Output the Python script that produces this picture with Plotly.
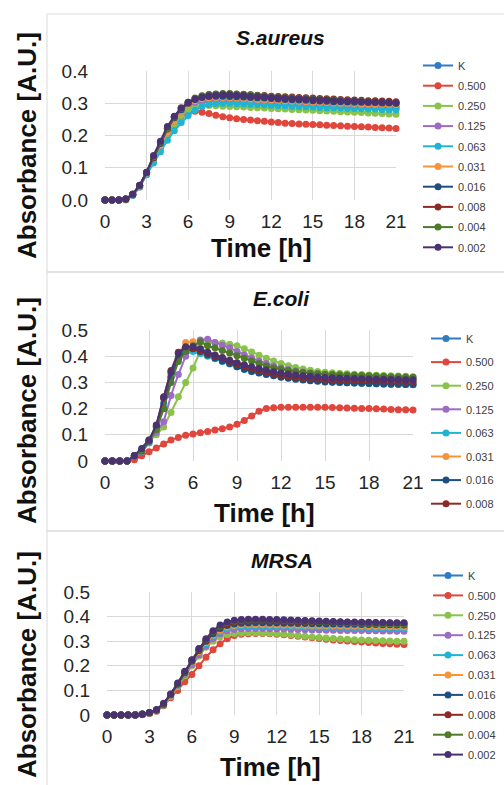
import plotly.graph_objects as go

# ---------------- data ----------------
time_h = [0, 0.5, 1, 1.5, 2, 2.5, 3, 3.5, 4, 4.5, 5, 5.5, 6, 6.5, 7, 7.5, 8, 8.5, 9, 9.5,
          10, 10.5, 11, 11.5, 12, 12.5, 13, 13.5, 14, 14.5, 15, 15.5, 16, 16.5, 17, 17.5,
          18, 18.5, 19, 19.5, 20, 20.5, 21]

series_names = ["K", "0.500", "0.250", "0.125", "0.063", "0.031", "0.016", "0.008", "0.004", "0.002"]

# S.aureus
sa_K = [0, 0, 0, 0.002, 0.017, 0.043, 0.082, 0.125, 0.165, 0.205,
        0.24, 0.27, 0.29, 0.30, 0.305, 0.307, 0.308, 0.308, 0.307, 0.306,
        0.305, 0.304, 0.303, 0.302, 0.301, 0.300, 0.299, 0.298, 0.297, 0.296,
        0.295, 0.294, 0.293, 0.292, 0.291, 0.290, 0.289, 0.288, 0.288, 0.287,
        0.286, 0.286, 0.285]
sa_0500 = [0, 0, 0, 0.002, 0.015, 0.04, 0.08, 0.12, 0.16, 0.2,
           0.235, 0.26, 0.272, 0.275, 0.272, 0.268, 0.263, 0.258, 0.255, 0.252,
           0.25, 0.248, 0.246, 0.244, 0.242, 0.24, 0.238, 0.237, 0.236, 0.235,
           0.234, 0.233, 0.232, 0.231, 0.23, 0.229, 0.228, 0.227, 0.226, 0.225,
           0.224, 0.223, 0.222]
sa_0250 = [0, 0, -0.002, 0, 0.015, 0.042, 0.08, 0.12, 0.16, 0.2,
           0.235, 0.262, 0.28, 0.288, 0.292, 0.293, 0.292, 0.291, 0.29, 0.289,
           0.288, 0.287, 0.286, 0.285, 0.284, 0.283, 0.282, 0.281, 0.28, 0.279,
           0.278, 0.277, 0.276, 0.275, 0.274, 0.273, 0.272, 0.271, 0.27, 0.269,
           0.268, 0.267, 0.266]
sa_0125 = [0, 0, 0, 0.002, 0.017, 0.044, 0.083, 0.127, 0.168, 0.21,
           0.245, 0.275, 0.295, 0.303, 0.307, 0.308, 0.309, 0.309, 0.308, 0.307,
           0.306, 0.305, 0.304, 0.303, 0.302, 0.301, 0.300, 0.299, 0.298, 0.297,
           0.296, 0.296, 0.295, 0.295, 0.294, 0.293, 0.293, 0.292, 0.292, 0.291,
           0.291, 0.290, 0.290]
sa_0063 = [0, 0, 0, 0.002, 0.015, 0.04, 0.078, 0.115, 0.15, 0.185,
           0.215, 0.24, 0.262, 0.278, 0.29, 0.296, 0.299, 0.3, 0.3, 0.299,
           0.298, 0.297, 0.296, 0.295, 0.294, 0.293, 0.292, 0.291, 0.29, 0.289,
           0.288, 0.287, 0.286, 0.286, 0.285, 0.284, 0.284, 0.283, 0.282, 0.282,
           0.281, 0.28, 0.28]
sa_0031 = [0, 0, 0, 0.002, 0.017, 0.044, 0.084, 0.128, 0.17, 0.21,
           0.245, 0.275, 0.295, 0.308, 0.314, 0.317, 0.318, 0.318, 0.317, 0.316,
           0.315, 0.313, 0.312, 0.311, 0.31, 0.309, 0.308, 0.307, 0.306, 0.305,
           0.304, 0.303, 0.302, 0.301, 0.3, 0.3, 0.299, 0.298, 0.298, 0.297,
           0.297, 0.296, 0.296]
sa_0016 = [0, 0, 0, 0.003, 0.018, 0.045, 0.085, 0.13, 0.175, 0.22,
           0.255, 0.28, 0.3, 0.312, 0.318, 0.321, 0.322, 0.322, 0.321, 0.32,
           0.319, 0.318, 0.317, 0.316, 0.315, 0.313, 0.312, 0.311, 0.31, 0.309,
           0.308, 0.307, 0.306, 0.305, 0.305, 0.304, 0.303, 0.303, 0.302, 0.302,
           0.301, 0.301, 0.3]
sa_0008 = [0, 0, 0, 0.003, 0.018, 0.045, 0.085, 0.132, 0.178, 0.222,
           0.258, 0.285, 0.303, 0.315, 0.322, 0.326, 0.328, 0.329, 0.329, 0.328,
           0.327, 0.326, 0.325, 0.324, 0.322, 0.321, 0.32, 0.319, 0.318, 0.317,
           0.316, 0.315, 0.314, 0.313, 0.312, 0.311, 0.31, 0.309, 0.308, 0.308,
           0.307, 0.306, 0.305]
sa_0004 = [0, 0, -0.002, 0.002, 0.018, 0.045, 0.086, 0.133, 0.178, 0.222,
           0.257, 0.284, 0.303, 0.316, 0.323, 0.327, 0.329, 0.33, 0.33, 0.329,
           0.328, 0.326, 0.324, 0.322, 0.32, 0.318, 0.317, 0.316, 0.315, 0.314,
           0.313, 0.312, 0.311, 0.31, 0.309, 0.308, 0.307, 0.306, 0.305, 0.304,
           0.303, 0.302, 0.301]
sa_0002 = [0, 0, 0, 0.003, 0.018, 0.046, 0.086, 0.138, 0.182, 0.228,
           0.26, 0.285, 0.302, 0.313, 0.319, 0.323, 0.325, 0.326, 0.326, 0.325,
           0.324, 0.322, 0.321, 0.319, 0.318, 0.316, 0.315, 0.314, 0.313, 0.312,
           0.311, 0.31, 0.309, 0.308, 0.307, 0.306, 0.306, 0.305, 0.304, 0.303,
           0.303, 0.302, 0.301]

# E.coli
ec_K = [0, 0, 0, 0, 0.02, 0.035, 0.07, 0.13, 0.22, 0.32,
        0.39, 0.415, 0.425, 0.415, 0.405, 0.395, 0.385, 0.375, 0.362, 0.352,
        0.345, 0.34, 0.335, 0.33, 0.325, 0.32, 0.316, 0.312, 0.31, 0.308,
        0.306, 0.304, 0.302, 0.3, 0.299, 0.298, 0.297, 0.296, 0.295, 0.294,
        0.293, 0.292, 0.291]
ec_0500 = [0, 0, 0, 0, 0.005, 0.02, 0.035, 0.05, 0.065, 0.08,
           0.09, 0.098, 0.103, 0.108, 0.113, 0.118, 0.123, 0.13, 0.14, 0.155,
           0.172, 0.19, 0.2, 0.203, 0.205, 0.205, 0.205, 0.205, 0.205, 0.205,
           0.205, 0.204, 0.203, 0.202, 0.201, 0.2, 0.2, 0.199, 0.198, 0.197,
           0.196, 0.196, 0.195]
ec_0250 = [0, 0, 0, 0, 0.02, 0.04, 0.075, 0.1, 0.13, 0.185,
           0.245, 0.3, 0.355, 0.42, 0.45, 0.452, 0.45, 0.446, 0.44, 0.428,
           0.416, 0.404, 0.392, 0.382, 0.372, 0.364, 0.357, 0.351, 0.346, 0.342,
           0.339, 0.337, 0.335, 0.333, 0.331, 0.33, 0.328, 0.327, 0.326, 0.325,
           0.324, 0.323, 0.322]
ec_0125 = [0, 0, 0, 0, 0.02, 0.04, 0.075, 0.11, 0.15, 0.25,
           0.33, 0.40, 0.43, 0.462, 0.465, 0.452, 0.442, 0.432, 0.418, 0.405,
           0.393, 0.382, 0.372, 0.363, 0.355, 0.349, 0.344, 0.34, 0.336, 0.333,
           0.33, 0.328, 0.326, 0.324, 0.322, 0.321, 0.32, 0.319, 0.318, 0.317,
           0.316, 0.315, 0.314]
ec_0063 = [0, 0, 0, 0, 0.02, 0.035, 0.07, 0.13, 0.24, 0.33,
           0.395, 0.42, 0.418, 0.41, 0.4, 0.39, 0.38, 0.37, 0.36, 0.35,
           0.343, 0.337, 0.332, 0.327, 0.322, 0.318, 0.314, 0.311, 0.308, 0.306,
           0.304, 0.302, 0.3, 0.299, 0.298, 0.297, 0.296, 0.295, 0.294, 0.293,
           0.293, 0.292, 0.292]
ec_0031 = [0, 0, 0, 0, 0.02, 0.038, 0.075, 0.135, 0.24, 0.34,
           0.41, 0.452, 0.455, 0.43, 0.415, 0.405, 0.395, 0.385, 0.375, 0.365,
           0.357, 0.35, 0.343, 0.337, 0.332, 0.327, 0.323, 0.32, 0.317, 0.314,
           0.312, 0.31, 0.309, 0.308, 0.307, 0.306, 0.305, 0.305, 0.304, 0.304,
           0.303, 0.303, 0.302]
ec_0016 = [0, 0, 0, 0, 0.02, 0.038, 0.075, 0.13, 0.2, 0.32,
           0.39, 0.42, 0.43, 0.418, 0.405, 0.393, 0.382, 0.372, 0.36, 0.35,
           0.342, 0.336, 0.33, 0.325, 0.32, 0.316, 0.312, 0.309, 0.306, 0.304,
           0.302, 0.301, 0.3, 0.299, 0.298, 0.297, 0.296, 0.295, 0.294, 0.293,
           0.293, 0.292, 0.292]
ec_0008 = [0, 0, 0, 0, 0.02, 0.04, 0.078, 0.135, 0.24, 0.345,
           0.415, 0.43, 0.428, 0.42, 0.41, 0.4, 0.39, 0.38, 0.37, 0.36,
           0.352, 0.345, 0.338, 0.332, 0.327, 0.323, 0.32, 0.317, 0.315, 0.313,
           0.311, 0.31, 0.309, 0.308, 0.307, 0.306, 0.306, 0.305, 0.305, 0.304,
           0.304, 0.303, 0.303]
ec_0004 = [0, 0, 0, 0, 0.02, 0.04, 0.08, 0.12, 0.2, 0.3,
           0.38, 0.42, 0.44, 0.455, 0.44, 0.432, 0.422, 0.412, 0.402, 0.392,
           0.382, 0.372, 0.363, 0.355, 0.35, 0.345, 0.341, 0.338, 0.335, 0.333,
           0.331, 0.33, 0.329, 0.328, 0.327, 0.326, 0.325, 0.324, 0.323, 0.322,
           0.322, 0.321, 0.32]
ec_0002 = [0, 0, 0, 0, 0.02, 0.048, 0.08, 0.137, 0.245, 0.34,
           0.41, 0.436, 0.436, 0.428, 0.415, 0.405, 0.395, 0.385, 0.375, 0.367,
           0.36, 0.353, 0.347, 0.341, 0.336, 0.332, 0.328, 0.325, 0.323, 0.321,
           0.319, 0.318, 0.317, 0.316, 0.315, 0.314, 0.313, 0.312, 0.312, 0.311,
           0.311, 0.31, 0.31]

# MRSA
mr_K = [0, 0, 0, 0, 0, 0.003, 0.008, 0.018, 0.042, 0.078,
        0.12, 0.165, 0.21, 0.25, 0.285, 0.315, 0.338, 0.352, 0.36, 0.363,
        0.364, 0.364, 0.364, 0.363, 0.363, 0.362, 0.362, 0.361, 0.361, 0.36,
        0.36, 0.359, 0.359, 0.358, 0.358, 0.357, 0.357, 0.356, 0.356, 0.355,
        0.355, 0.354, 0.354]
mr_0500 = [0, 0, 0, 0, 0, 0.002, 0.006, 0.015, 0.038, 0.07,
           0.1, 0.135, 0.165, 0.2, 0.235, 0.265, 0.29, 0.31, 0.323, 0.328,
           0.33, 0.331, 0.331, 0.33, 0.328, 0.326, 0.323, 0.32, 0.317, 0.314,
           0.311, 0.308, 0.305, 0.303, 0.301, 0.299, 0.297, 0.295, 0.293, 0.291,
           0.29, 0.288, 0.287]
mr_0250 = [0, 0, 0, 0, 0.002, 0.003, 0.008, 0.018, 0.04, 0.075,
           0.115, 0.16, 0.2, 0.24, 0.275, 0.3, 0.318, 0.327, 0.331, 0.333,
           0.334, 0.334, 0.333, 0.332, 0.331, 0.329, 0.326, 0.323, 0.32, 0.317,
           0.315, 0.313, 0.311, 0.309, 0.308, 0.306, 0.305, 0.304, 0.303, 0.302,
           0.301, 0.3, 0.3]
mr_0125 = [0, 0, 0, 0, 0, 0.003, 0.008, 0.018, 0.042, 0.078,
           0.12, 0.165, 0.205, 0.245, 0.28, 0.31, 0.33, 0.342, 0.348, 0.351,
           0.352, 0.352, 0.352, 0.351, 0.351, 0.35, 0.349, 0.348, 0.347, 0.346,
           0.346, 0.345, 0.345, 0.344, 0.344, 0.343, 0.343, 0.342, 0.342, 0.341,
           0.341, 0.34, 0.34]
mr_0063 = [0, 0, 0, 0, 0, 0.003, 0.008, 0.018, 0.043, 0.08,
           0.122, 0.168, 0.215, 0.255, 0.29, 0.32, 0.34, 0.352, 0.358, 0.36,
           0.361, 0.361, 0.361, 0.36, 0.36, 0.36, 0.359, 0.359, 0.358, 0.358,
           0.358, 0.357, 0.357, 0.357, 0.356, 0.356, 0.356, 0.355, 0.355, 0.355,
           0.355, 0.354, 0.354]
mr_0031 = [0, 0, 0, 0, 0, 0.003, 0.008, 0.018, 0.043, 0.08,
           0.123, 0.17, 0.215, 0.258, 0.295, 0.325, 0.345, 0.358, 0.364, 0.367,
           0.368, 0.368, 0.368, 0.367, 0.367, 0.366, 0.366, 0.365, 0.365, 0.364,
           0.364, 0.364, 0.363, 0.363, 0.362, 0.362, 0.362, 0.361, 0.361, 0.36,
           0.36, 0.36, 0.359]
mr_0016 = [0, 0, 0, 0, 0, 0.003, 0.009, 0.019, 0.044, 0.082,
           0.125, 0.172, 0.218, 0.262, 0.3, 0.33, 0.352, 0.364, 0.37, 0.373,
           0.374, 0.375, 0.375, 0.374, 0.374, 0.373, 0.373, 0.372, 0.372, 0.371,
           0.371, 0.37, 0.37, 0.37, 0.369, 0.369, 0.368, 0.368, 0.368, 0.367,
           0.367, 0.366, 0.366]
mr_0008 = [0, 0, 0, 0, 0, 0.003, 0.009, 0.02, 0.045, 0.083,
           0.127, 0.175, 0.222, 0.265, 0.305, 0.336, 0.358, 0.371, 0.378, 0.381,
           0.382, 0.383, 0.383, 0.382, 0.382, 0.381, 0.381, 0.38, 0.38, 0.379,
           0.379, 0.378, 0.378, 0.377, 0.377, 0.376, 0.376, 0.375, 0.375, 0.374,
           0.374, 0.373, 0.373]
mr_0004 = [0, 0, 0, 0, 0.002, 0.004, 0.009, 0.02, 0.045, 0.084,
           0.128, 0.176, 0.224, 0.268, 0.308, 0.34, 0.362, 0.375, 0.382, 0.385,
           0.386, 0.387, 0.387, 0.386, 0.386, 0.385, 0.384, 0.383, 0.382, 0.381,
           0.38, 0.379, 0.378, 0.377, 0.376, 0.375, 0.374, 0.373, 0.372, 0.371,
           0.37, 0.37, 0.369]
mr_0002 = [0, 0, 0, 0, 0, 0.004, 0.01, 0.022, 0.048, 0.085,
           0.13, 0.178, 0.225, 0.27, 0.31, 0.342, 0.366, 0.378, 0.385, 0.388,
           0.389, 0.389, 0.389, 0.388, 0.388, 0.387, 0.386, 0.385, 0.384, 0.383,
           0.382, 0.381, 0.38, 0.379, 0.378, 0.378, 0.377, 0.377, 0.376, 0.376,
           0.375, 0.375, 0.375]

panel_titles = ["S.aureus", "E.coli", "MRSA"]
x_ticks = [0, 3, 6, 9, 12, 15, 18, 21]
y_ticks_sa = [0.0, 0.1, 0.2, 0.3, 0.4]
y_ticks_other = [0, 0.1, 0.2, 0.3, 0.4, 0.5]

saureus = [sa_K, sa_0500, sa_0250, sa_0125, sa_0063, sa_0031, sa_0016, sa_0008, sa_0004, sa_0002]
ecoli = [ec_K, ec_0500, ec_0250, ec_0125, ec_0063, ec_0031, ec_0016, ec_0008, ec_0004, ec_0002]
mrsa = [mr_K, mr_0500, mr_0250, mr_0125, mr_0063, mr_0031, mr_0016, mr_0008, mr_0004, mr_0002]

# ---------------- style ----------------
colors = ["#2f7cc4", "#e0463c", "#8bc34a", "#9c6cc4", "#1fb4d4",
          "#f7943a", "#1e4f80", "#8c2a24", "#4e7a2a", "#4a3272"]
W, H = 504, 785
FONT = "Liberation Sans, Arial, sans-serif"


def px(x):
    return x / W


def py(y):
    return 1 - y / H


panels = [
    dict(data=saureus, xd=(105, 396), yd=(71, 200), yr=0.4, yt=y_ticks_sa, fmt=".1f",
         lx=418, ly=51, gap=1.2, nleg=10,
         title_xy=(280, 38), time_xy=(261, 248), abs_y=146),
    dict(data=ecoli, xd=(105, 413), yd=(330, 461), yr=0.5, yt=y_ticks_other, fmt="",
         lx=426, ly=324, gap=4.6, nleg=8,
         title_xy=(281, 298), time_xy=(264, 513), abs_y=411),
    dict(data=mrsa, xd=(107, 404), yd=(592, 715), yr=0.5, yt=y_ticks_other, fmt="",
         lx=428, ly=561, gap=0.9, nleg=10,
         title_xy=(282, 560), time_xy=(270, 767), abs_y=665),
]

fig = go.Figure()
layout = dict(
    width=W, height=H,
    margin=dict(l=0, r=0, t=0, b=0, autoexpand=False),
    paper_bgcolor="white", plot_bgcolor="white",
    font=dict(family=FONT, color="#262626"),
    showlegend=True,
)
annotations = []
shapes = []

for i, p in enumerate(panels):
    n = "" if i == 0 else str(i + 1)
    xa, ya, lg = "x" + n, "y" + n, "legend" + n
    for j, name in enumerate(series_names):
        fig.add_trace(go.Scatter(
            x=time_h, y=p["data"][j], name=name, mode="lines+markers",
            xaxis=xa, yaxis=ya, legend=lg,
            legendgroup=f"p{i}_{name}", showlegend=j < p["nleg"],
            line=dict(color=colors[j], width=2),
            marker=dict(color=colors[j], size=7),
            cliponaxis=False,
        ))
    layout["xaxis" + n] = dict(
        domain=[px(p["xd"][0]), px(p["xd"][1])], range=[0, 21], anchor=ya,
        tickvals=x_ticks, showgrid=True, gridcolor="#d9d9d9", gridwidth=1,
        zeroline=False, showline=False, ticks="", ticklabelstandoff=8,
        tickfont=dict(size=19, color="#262626", family=FONT), fixedrange=True)
    layout["yaxis" + n] = dict(
        domain=[py(p["yd"][1]), py(p["yd"][0])], range=[0, p["yr"]], anchor=xa,
        tickvals=p["yt"], tickformat=p["fmt"], showgrid=True, gridcolor="#d9d9d9", gridwidth=1,
        zeroline=False, showline=False, ticks="", ticklabelstandoff=16,
        tickfont=dict(size=19, color="#262626", family=FONT), fixedrange=True)
    layout[lg] = dict(
        x=px(p["lx"]), y=py(p["ly"]), xanchor="left", yanchor="top",
        bgcolor="rgba(0,0,0,0)", borderwidth=0, tracegroupgap=p["gap"],
        font=dict(size=11, color="#404040", family=FONT), itemwidth=30)
    tx, ty = p["title_xy"]
    annotations.append(dict(text="<b><i>" + panel_titles[i] + "</i></b>", x=px(tx), y=py(ty),
                            xref="paper", yref="paper", showarrow=False,
                            xanchor="center", yanchor="middle",
                            font=dict(size=21, color="#111111", family=FONT)))
    mx, my = p["time_xy"]
    annotations.append(dict(text="<b>Time [h]</b>", x=px(mx), y=py(my),
                            xref="paper", yref="paper", showarrow=False,
                            xanchor="center", yanchor="middle",
                            font=dict(size=26, color="#111111", family=FONT)))
    annotations.append(dict(text="<b>Absorbance [A.U.]</b>", x=px(27), y=py(p["abs_y"]),
                            xref="paper", yref="paper", showarrow=False, textangle=-90,
                            xanchor="center", yanchor="middle",
                            font=dict(size=26, color="#111111", family=FONT)))

# panel frames
for (top, bottom) in [(14, 272), (272, 531), (531, 800)]:
    shapes.append(dict(type="rect", xref="paper", yref="paper",
                       x0=px(47), x1=px(520), y0=py(bottom), y1=py(top),
                       line=dict(color="#d9d9d9", width=1), layer="below"))

layout["annotations"] = annotations
layout["shapes"] = shapes
fig.update_layout(**layout)
fig.write_html(
    "out.html",
    config={"displayModeBar": False, "staticPlot": True},
    post_script="document.body.style.margin='0';document.documentElement.style.overflow='hidden';",
)
